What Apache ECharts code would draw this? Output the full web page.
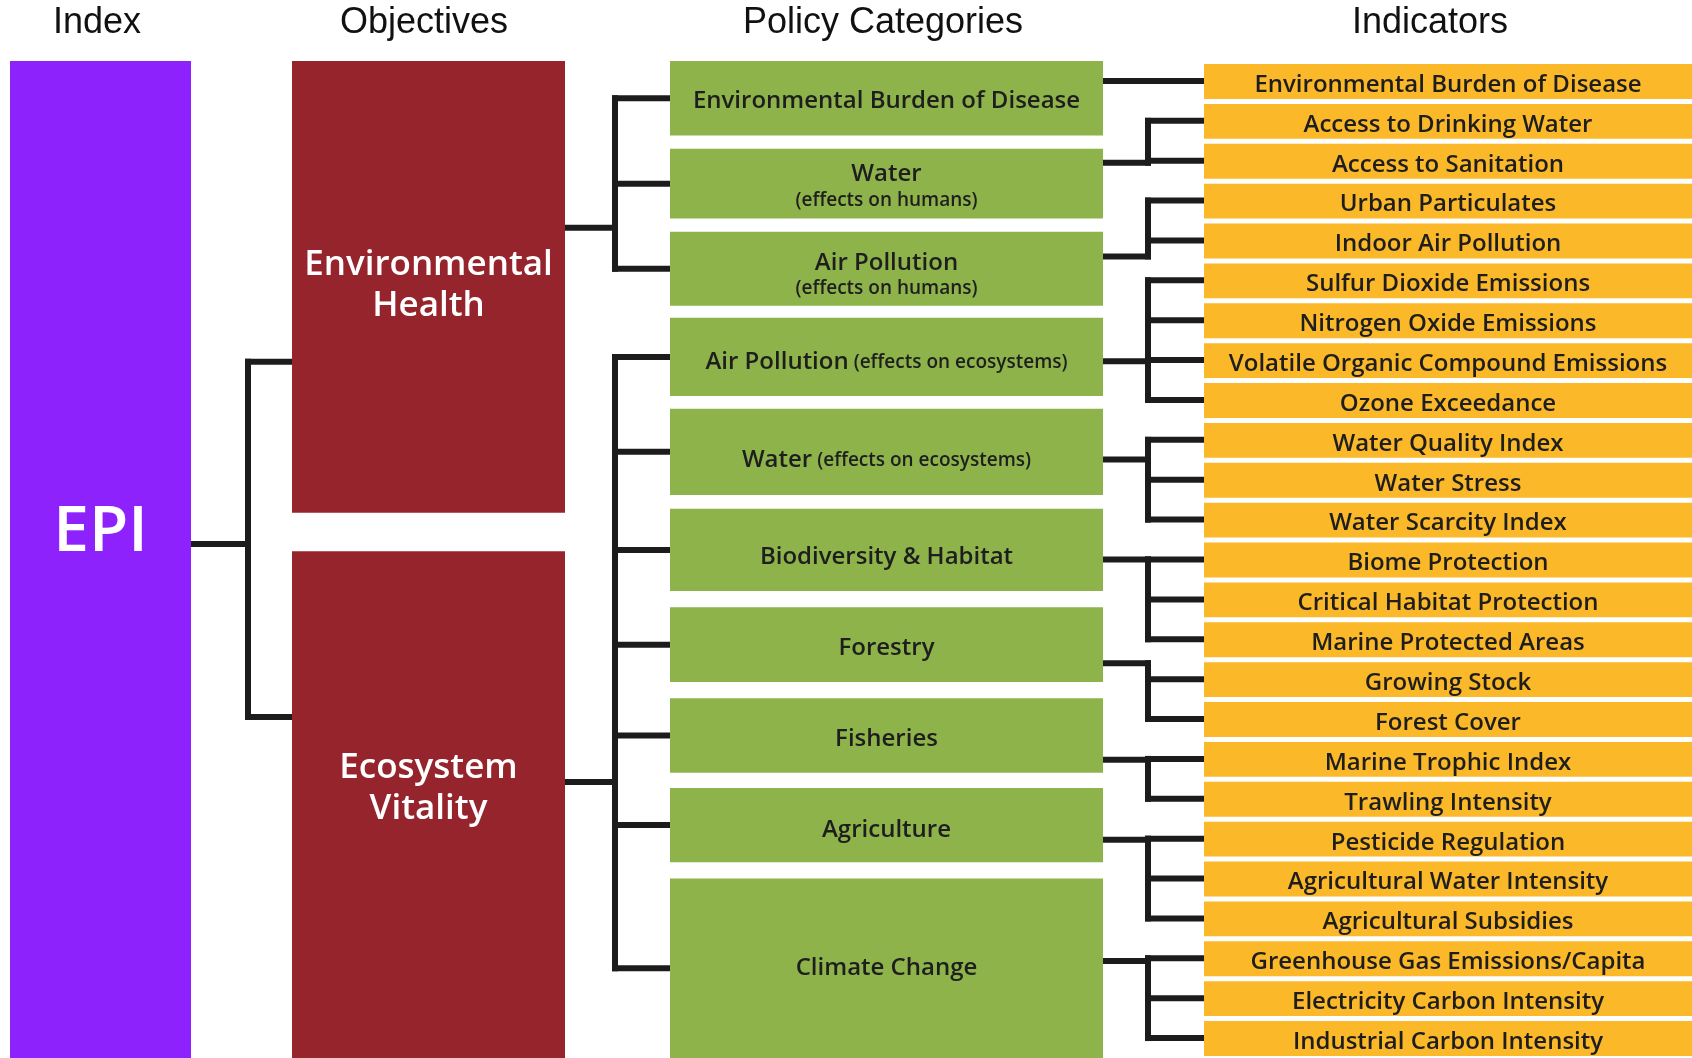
<!DOCTYPE html>
<html>
<head>
<meta charset="utf-8">
<title>EPI framework</title>
<script src="https://cdn.jsdelivr.net/npm/echarts@6/dist/echarts.min.js"></script>
<style>
html, body { margin: 0; padding: 0; background: #fff; }
#main { width: 1692px; height: 1058px; }
</style>
</head>
<body>
<div id="main"></div>
<script>
// column headers
var headers = ['Index', 'Objectives', 'Policy Categories', 'Indicators'];

// rows are counted on the indicator scale: 0 = top, 25 = bottom
var indexName = 'EPI';
var indexTextRow = 11.78;
var indexOutRow = 12.11;

// objectives
var objectives = ['Environmental\nHealth', 'Ecosystem\nVitality'];
var objStart = [0, 12.29];
var objEnd = [11.33, 25];
var objTextRow = [5.59, 18.2];
var objInRow = [7.54, 16.45];
var objOutRow = [4.18, 18.08];
var objCatCount = [3, 7];

// policy categories
var categories = ['Environmental Burden of Disease', 'Water', 'Air Pollution', 'Air Pollution', 'Water',
    'Biodiversity & Habitat', 'Forestry', 'Fisheries', 'Agriculture', 'Climate Change'];
var catNotes = ['', '\n(effects on humans)', '\n(effects on humans)', ' (effects on ecosystems)', ' (effects on ecosystems)',
    '', '', '', '', ''];
var catStart = [0, 2.2, 4.28, 6.44, 8.72, 11.23, 13.7, 15.98, 18.23, 20.5];
var catEnd = [1.87, 3.95, 6.14, 8.4, 10.88, 13.29, 15.57, 17.85, 20.09, 25];
var catTextRow = [0.95, 3.1, 5.31, 7.5, 9.97, 12.38, 14.68, 16.96, 19.23, 22.7];
var catOutRow = [0.5, 2.55, 4.9, 7.53, 9.99, 12.5, 15.1, 17.52, 19.53, 22.57];
var catIndCount = [1, 2, 2, 4, 3, 3, 2, 2, 3, 3];

// indicators
var indicators = ['Environmental Burden of Disease', 'Access to Drinking Water', 'Access to Sanitation',
    'Urban Particulates', 'Indoor Air Pollution', 'Sulfur Dioxide Emissions', 'Nitrogen Oxide Emissions',
    'Volatile Organic Compound Emissions', 'Ozone Exceedance', 'Water Quality Index', 'Water Stress',
    'Water Scarcity Index', 'Biome Protection', 'Critical Habitat Protection', 'Marine Protected Areas',
    'Growing Stock', 'Forest Cover', 'Marine Trophic Index', 'Trawling Intensity', 'Pesticide Regulation',
    'Agricultural Water Intensity', 'Agricultural Subsidies', 'Greenhouse Gas Emissions/Capita',
    'Electricity Carbon Intensity', 'Industrial Carbon Intensity'];

// layout (x axis is in page pixels)
var colIndex = [10, 191];
var colObj = [292, 565];
var colCat = [670, 1103];
var colInd = [1204, 1692];
var busX = [248, 615, 1148];
var headerX = [97, 424, 883, 1430];

var FONT = '"Open Sans", "Noto Sans", sans-serif';

// connectors: parent stem -> vertical bus -> one branch per child
var links = [];
links.push({ x0: colIndex[1], bus: busX[0], x1: colObj[0], stem: indexOutRow, kids: objInRow });
var c = 0;
for (var i = 0; i < objectives.length; i++) {
    var kids = [];
    for (var k = 0; k < objCatCount[i]; k++, c++) {
        kids.push((catStart[c] + catEnd[c]) / 2);
    }
    links.push({ x0: colObj[1], bus: busX[1], x1: colCat[0], stem: objOutRow[i], kids: kids });
}
var n = 0;
for (var i = 0; i < categories.length; i++) {
    var kids = [];
    for (var k = 0; k < catIndCount[i]; k++, n++) {
        kids.push(n + 0.5);
    }
    links.push({ x0: colCat[1], bus: busX[2], x1: colInd[0], stem: catOutRow[i], kids: kids });
}

function renderLink(params, api) {
    var l = links[params.dataIndex];
    var rows = l.kids.concat([l.stem]);
    var top = Math.min.apply(null, rows);
    var bot = Math.max.apply(null, rows);
    var style = { stroke: '#1c1c1c', lineWidth: 6, lineCap: 'square' };
    var segs = [];
    function seg(xa, ra, xb, rb) {
        var a = api.coord([xa, ra]);
        var b = api.coord([xb, rb]);
        segs.push({ type: 'line', shape: { x1: a[0], y1: a[1], x2: b[0], y2: b[1] }, style: style });
    }
    seg(l.x0, l.stem, l.bus, l.stem);
    if (bot > top) seg(l.bus, top, l.bus, bot);
    l.kids.forEach(function (r) { seg(l.bus, r, l.x1, r); });
    return { type: 'group', children: segs };
}

// generic box: value(0)=start row, value(1)=end row, value(2)=text row
function boxRenderer(col, fill, inset, dy, textFn) {
    return function (params, api) {
        var p0 = api.coord([col[0], api.value(0)]);
        var p1 = api.coord([col[1], api.value(1)]);
        var t = api.coord([col[0], api.value(2)]);
        var y0 = p0[1] + inset[0];
        var y1 = p1[1] - inset[1];
        return {
            type: 'group',
            children: [
                { type: 'rect', shape: { x: p0[0], y: y0, width: p1[0] - p0[0], height: y1 - y0 }, style: { fill: fill } },
                { type: 'text', x: (p0[0] + p1[0]) / 2, y: t[1] + dy, style: textFn(params.dataIndex) }
            ]
        };
    };
}

var indexData = [[0, 25, indexTextRow]];
var objData = objectives.map(function (o, i) { return [objStart[i], objEnd[i], objTextRow[i]]; });
var catData = categories.map(function (o, i) { return [catStart[i], catEnd[i], catTextRow[i]]; });
var indData = indicators.map(function (o, i) { return [i, i + 1, i + 0.5]; });

var myChart = echarts.init(document.getElementById('main'));
var option = {
    backgroundColor: '#ffffff',
    animation: false,
    grid: { left: 0, right: 0, top: 61, bottom: 0 },
    xAxis: { type: 'value', min: 0, max: 1692, show: false },
    yAxis: { type: 'value', min: 0, max: 25, inverse: true, show: false },
    graphic: headers.map(function (h, i) {
        return {
            type: 'text', x: headerX[i], y: 23,
            style: { text: h, fill: '#111', font: '36px "Liberation Sans", Arial, sans-serif', align: 'center', verticalAlign: 'middle' }
        };
    }),
    series: [
        {
            name: 'links', type: 'custom', z: 1,
            data: links.map(function (l) { return [l.stem]; }),
            renderItem: renderLink
        },
        {
            name: 'index', type: 'custom', z: 2, data: indexData,
            renderItem: boxRenderer(colIndex, '#8e22fc', [0, 0], 2, function () {
                return { text: indexName, fill: '#fff', font: '600 64px ' + FONT, align: 'center', verticalAlign: 'middle' };
            })
        },
        {
            name: 'objectives', type: 'custom', z: 2, data: objData,
            renderItem: boxRenderer(colObj, '#96242c', [0, 0], 2, function (i) {
                return { text: objectives[i], fill: '#fff', font: '600 35px ' + FONT, lineHeight: 41, align: 'center', verticalAlign: 'middle' };
            })
        },
        {
            name: 'categories', type: 'custom', z: 2, data: catData,
            renderItem: boxRenderer(colCat, '#8db34a', [0, 0], 2, function (i) {
                var note = catNotes[i];
                var txt = '{m|' + categories[i] + '}';
                if (note.charAt(0) === '\n') txt += '\n{n|' + note.slice(1) + '}';
                else if (note) txt += '{n|' + note + '}';
                return {
                    text: txt, align: 'center', verticalAlign: 'middle',
                    rich: {
                        m: { font: '600 24px ' + FONT, fill: '#1e1e1e', lineHeight: 27 },
                        n: { font: '600 19px ' + FONT, fill: '#1e1e1e', lineHeight: 24 }
                    }
                };
            })
        },
        {
            name: 'indicators', type: 'custom', z: 2, data: indData,
            renderItem: boxRenderer(colInd, '#fbb829', [3, 2], 4, function (i) {
                return { text: indicators[i], fill: '#1e1e1e', font: '600 24px ' + FONT, align: 'center', verticalAlign: 'middle' };
            })
        }
    ]
};
myChart.setOption(option);
</script>
</body>
</html>
